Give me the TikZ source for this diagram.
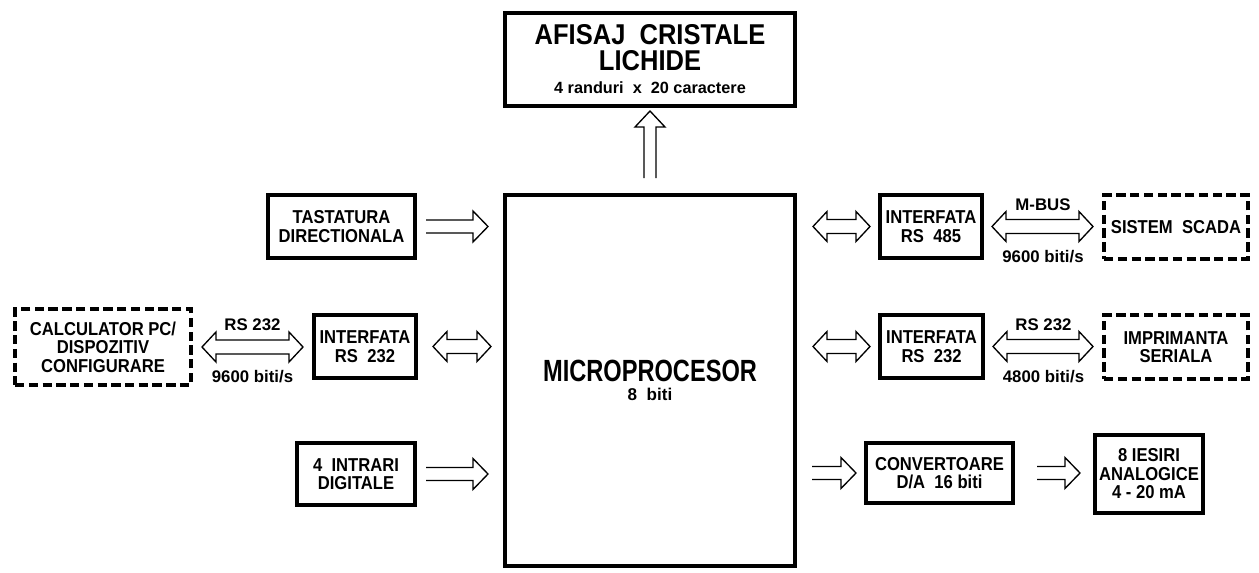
\documentclass[tikz,border=0pt]{standalone}
\usepackage{fontspec}
\setmainfont{Liberation Sans}
\newfontfamily\boxfont[FakeStretch=0.89]{Liberation Sans}
\newfontfamily\microfont[FakeStretch=0.77]{Liberation Sans}
\usetikzlibrary{calc}

\begin{document}
\begin{tikzpicture}[
    x=0.75pt, y=-0.75pt,
    box/.style={draw, line width=3.2pt, inner sep=0pt, align=center,
        font=\boxfont\bfseries\fontsize{14}{13.9}\selectfont},
    extbox/.style={box, dash pattern=on 7pt off 3.3pt},
    buslabel/.style={inner sep=0pt, font=\bfseries\fontsize{12.6}{12.6}\selectfont},
    bus/.style={draw, line width=1pt, to path={
        let \p1=(\tikztostart), \p2=(\tikztotarget) in
        (\x1,\y1+4.9pt) -- (\x2-11.25pt,\y1+4.9pt) -- (\x2-11.25pt,\y1+11.6pt)
        -- (\x2,\y1) -- (\x2-11.25pt,\y1-11.6pt) -- (\x2-11.25pt,\y1-4.9pt)
        -- (\x1,\y1-4.9pt)}},
    bibus/.style={draw, line width=1pt, to path={
        let \p1=(\tikztostart), \p2=(\tikztotarget) in
        (\x1+10.5pt,\y1+5.25pt) -- (\x2-10.5pt,\y1+5.25pt) -- (\x2-10.5pt,\y1+11.25pt)
        -- (\x2,\y1) -- (\x2-10.5pt,\y1-11.25pt) -- (\x2-10.5pt,\y1-5.25pt)
        -- (\x1+10.5pt,\y1-5.25pt) -- (\x1+10.5pt,\y1-11.25pt) -- (\x1,\y1)
        -- (\x1+10.5pt,\y1+11.25pt) -- cycle}},
    busup/.style={draw, line width=1pt, to path={
        let \p1=(\tikztostart), \p2=(\tikztotarget) in
        (\x1-4.5pt,\y1) -- (\x1-4.5pt,\y2-12pt) -- (\x1-11.25pt,\y2-12pt)
        -- (\x1,\y2) -- (\x1+11.25pt,\y2-12pt) -- (\x1+4.5pt,\y2-12pt)
        -- (\x1+4.5pt,\y1)}}
]
\useasboundingbox (0,0) rectangle (1259,572);
% Schema bloc: microprocesorul si perifericele lui.
\node[box, minimum width=217.3pt, minimum height=69.55pt,
      font=\boxfont\bfseries\fontsize{21.5}{19.5}\selectfont] (lcd) at (650,59.5)
    {AFISAJ\ \ CRISTALE\\LICHIDE\\[-2.25pt]{\normalfont\bfseries\fontsize{12.2}{12.2}\selectfont 4 randuri\ \ x\ \ 20 caractere}};
\node[box, minimum width=217.3pt, minimum height=278.05pt,
      font=\microfont\bfseries\fontsize{23}{14.25}\selectfont] (micro) at (650,380.5)
    {MICROPROCESOR\\{\normalfont\bfseries\fontsize{12.8}{12.8}\selectfont 8\ \ biti}};

% stanga
\node[box, minimum width=110.05pt, minimum height=47.05pt] (tast) at (341.5,226.5)
    {TASTATURA\\DIRECTIONALA};
\node[extbox, minimum width=131.8pt, minimum height=56.8pt] (calc) at (103,347)
    {CALCULATOR PC/\\DISPOZITIV\\CONFIGURARE};
\node[box, minimum width=76.3pt, minimum height=47.05pt] (ifl) at (365,346.5)
    {INTERFATA\\RS\ \ 232};
\node[box, minimum width=88.3pt, minimum height=46.3pt] (intr) at (356,474)
    {4\ \ INTRARI\\DIGITALE};

% dreapta
\node[box, minimum width=76.3pt, minimum height=47.05pt] (i485) at (931,226.5)
    {INTERFATA\\RS\ \ 485};
\node[extbox, minimum width=107.8pt, minimum height=47.8pt] (scada) at (1176,227)
    {SISTEM\ \ SCADA};
\node[box, minimum width=77.05pt, minimum height=47.05pt] (ifr) at (931.5,346.5)
    {INTERFATA\\RS\ \ 232};
\node[extbox, minimum width=107.8pt, minimum height=47.8pt] (impr) at (1176,347)
    {IMPRIMANTA\\SERIALA};
\node[box, minimum width=110.05pt, minimum height=44.8pt] (conv) at (939.5,473)
    {CONVERTOARE\\D/A\ \ 16 biti};
\node[box, minimum width=80.8pt, minimum height=58.3pt] (ies) at (1149,474)
    {8 IESIRI\\ANALOGICE\\4 - 20 mA};

% magistrale
\draw[busup] ($(micro.north)+(0pt,11.25pt)$) to ($(lcd.south)+(0pt,-2.25pt)$);
\draw[bus] ($(tast.east)+(6.75pt,0pt)$) to ($(micro.west)+(-11.25pt,0pt)$);
\draw[bus] ($(intr.east)+(6.75pt,0pt)$) to ($(micro.west)+(-11.25pt,0pt)$);
\draw[bibus] ($(calc.east)+(6.75pt,0pt)$) to ($(ifl.west)+(-6.75pt,0pt)$);
\draw[bibus] ($(ifl.east)+(11.25pt,0pt)$) to ($(micro.west)+(-9pt,0pt)$);
\draw[bibus] ($(micro.east |- i485.west)+(12pt,0pt)$) to ($(i485.west)+(-6pt,0pt)$);
\draw[bibus] ($(i485.east)+(6pt,0pt)$) to ($(scada.west)+(-6.75pt,0pt)$);
\draw[bibus] ($(micro.east |- ifr.west)+(12pt,0pt)$) to ($(ifr.west)+(-6pt,0pt)$);
\draw[bibus] ($(ifr.east)+(6pt,0pt)$) to ($(impr.west)+(-6.75pt,0pt)$);
\draw[bus] ($(micro.east |- conv.west)+(11.25pt,0pt)$) to ($(conv.west)+(-6pt,0pt)$);
\draw[bus] ($(conv.east)+(16.5pt,0pt)$) to ($(ies.west)+(-9.75pt,0pt)$);

% etichete magistrale
\node[buslabel] (rs1) at ($(calc.east)!0.5!(ifl.west)+(0pt,16.5pt)$) {RS 232};
\node[buslabel] (bd1) at ($(calc.east)!0.5!(ifl.west)+(0pt,-22.5pt)$) {9600 biti/s};
\node[buslabel] (mbus) at ($(i485.east)!0.5!(scada.west)+(0pt,16.5pt)$) {M-BUS};
\node[buslabel] (bd2) at ($(i485.east)!0.5!(scada.west)+(0pt,-22.5pt)$) {9600 biti/s};
\node[buslabel] (rs2) at ($(ifr.east)!0.5!(impr.west)+(0pt,16.5pt)$) {RS 232};
\node[buslabel] (bd3) at ($(ifr.east)!0.5!(impr.west)+(0pt,-22.5pt)$) {4800 biti/s};
\end{tikzpicture}
\end{document}
